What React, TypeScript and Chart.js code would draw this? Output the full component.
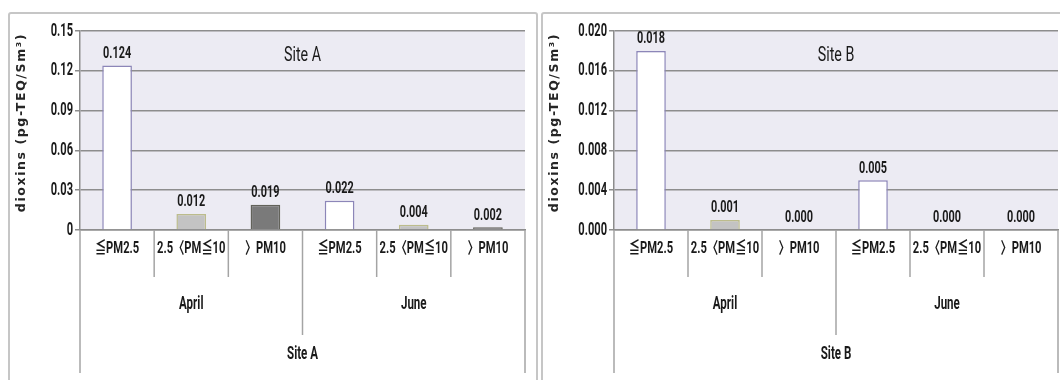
import { useEffect, useRef } from "react";
import { Chart, registerables } from "chart.js";

Chart.register(...registerables);

// Particle size classes, repeated for each sampling month
const sizeClasses = ["≦PM2.5", "2.5〈PM≦10", "〉PM10"];
const months = ["April", "June"];
const categories = months.flatMap(() => sizeClasses);

// Dioxin concentrations (pg-TEQ/Sm³)
const siteAValues = [0.124, 0.012, 0.019, 0.022, 0.004, 0.002];
const siteBValues = [0.018, 0.001, 0.0, 0.005, 0.0, 0.0];

// Value-axis tick labels
const siteATicks = ["0", "0.03", "0.06", "0.09", "0.12", "0.15"];
const siteBTicks = ["0.000", "0.004", "0.008", "0.012", "0.016", "0.020"];

const yTitle = "dioxins (pg-TEQ/Sm³)";

const barFills = ["#ffffff", "#c3c3c3", "#7a7a7a"];
const barEdges = ["#8c86b8", "#bcbc8c", "#62625a"];

const FACE = '"Roboto", "Noto Sans CJK KR", "Liberation Sans", sans-serif';
const TEXT = "#1a1a1a";
const GRID = "#8d8d8d";
const DIVIDER = "#a4a4a4";
const PLOT_BG = "#ecebf3";

// Draws horizontally condensed text centred vertically on y
function narrowText(
  ctx: CanvasRenderingContext2D,
  text: string,
  x: number,
  y: number,
  size: number,
  align: CanvasTextAlign,
  squeeze = 0.7,
  weight = "bold"
) {
  ctx.save();
  ctx.translate(x, y);
  ctx.scale(squeeze, 1);
  ctx.font = `${weight} ${size}px ${FACE}`;
  ctx.textAlign = align;
  ctx.textBaseline = "middle";
  ctx.fillStyle = TEXT;
  ctx.fillText(text, 0, 0);
  ctx.restore();
}

function vline(ctx: CanvasRenderingContext2D, x: number, y0: number, y1: number) {
  ctx.save();
  ctx.strokeStyle = DIVIDER;
  ctx.lineWidth = 1.5;
  ctx.beginPath();
  ctx.moveTo(x, y0);
  ctx.lineTo(x, y1);
  ctx.stroke();
  ctx.restore();
}

const panelDecor = {
  id: "panelDecor",
  beforeDraw(chart: any) {
    const { ctx, chartArea: a } = chart;
    ctx.save();
    ctx.fillStyle = PLOT_BG;
    ctx.fillRect(a.left, a.top, a.right - a.left, a.bottom - a.top);
    ctx.restore();
  },
  afterDraw(chart: any, _args: any, opts: any) {
    const { ctx, chartArea: a } = chart;
    const ys = chart.scales.y;
    const xs = chart.scales.x;
    const values: number[] = chart.data.datasets[0].data;

    // value-axis tick labels
    ys.ticks.forEach((t: any, i: number) => {
      narrowText(ctx, opts.tickLabels[i] ?? "", a.left - 7, ys.getPixelForValue(t.value), 18.5, "right", 0.6);
    });

    // value-axis title
    ctx.save();
    ctx.translate(12, (a.top + a.bottom) / 2 - 8);
    ctx.rotate(-Math.PI / 2);
    ctx.font = 'bold 12.5px "DejaVu Sans", sans-serif';
    (ctx as any).letterSpacing = "1.6px";
    ctx.textAlign = "center";
    ctx.textBaseline = "middle";
    ctx.fillStyle = "#262626";
    ctx.fillText(yTitle, 0, 0);
    ctx.restore();

    // site caption inside the plot
    narrowText(ctx, opts.site, (a.left + a.right) / 2, a.top + 25, 21, "center", 0.68, "normal");

    // value labels above bars
    const meta = chart.getDatasetMeta(0);
    meta.data.forEach((bar: any, i: number) => {
      narrowText(ctx, values[i].toFixed(3), bar.x, bar.y - 12, 17, "center", 0.64);
    });

    // multi-level category axis
    const n = categories.length;
    const catW = xs.getPixelForValue(1) - xs.getPixelForValue(0);
    const edge = (i: number) => xs.getPixelForValue(0) - catW / 2 + i * catW;
    for (let i = 0; i <= n; i++) {
      let end = a.bottom + 47;
      if (i === 0 || i === n) end = a.bottom + 143;
      else if (i % sizeClasses.length === 0) end = a.bottom + 105;
      vline(ctx, edge(i), a.bottom, end);
    }
    categories.forEach((c, i) => {
      narrowText(ctx, c, xs.getPixelForValue(i), a.bottom + 19, 16, "center", 0.7);
    });
    months.forEach((m, g) => {
      const cx = (edge(g * sizeClasses.length) + edge((g + 1) * sizeClasses.length)) / 2;
      narrowText(ctx, m, cx, a.bottom + 74.5, 17.5, "center", 0.66);
    });
    narrowText(ctx, opts.site, (edge(0) + edge(n)) / 2, a.bottom + 125, 17.5, "center", 0.66);
  },
};

type PanelProps = {
  site: string;
  values: number[];
  tickLabels: string[];
  x: number;
  width: number;
  plotLeft: number;
  plotRight: number;
};

const PANEL_TOP = 12;
const PANEL_H = 380;
const BORDER = 2;
const PLOT_TOP = 17;
const PLOT_BOTTOM = 216;

function SitePanel({ site, values, tickLabels, x, width, plotLeft, plotRight }: PanelProps) {
  const ref = useRef<HTMLCanvasElement | null>(null);
  const cw = width - BORDER * 2;
  const ch = PANEL_H - BORDER * 2;

  useEffect(() => {
    if (!ref.current) return;
    const max = parseFloat(tickLabels[tickLabels.length - 1]);
    const step = parseFloat(tickLabels[1]);
    const chart = new Chart(ref.current, {
      type: "bar",
      data: {
        labels: categories,
        datasets: [
          {
            data: values,
            backgroundColor: categories.map((_, i) => barFills[i % barFills.length]),
            borderColor: categories.map((_, i) => barEdges[i % barEdges.length]),
            borderWidth: 1.5,
            barPercentage: 0.4,
            categoryPercentage: 1,
          },
        ],
      },
      options: {
        responsive: false,
        animation: false,
        events: [],
        layout: { padding: { top: PLOT_TOP, right: cw - plotRight, left: 0, bottom: 0 } },
        plugins: {
          legend: { display: false },
          tooltip: { enabled: false },
          title: { display: false },
          panelDecor: { site, tickLabels },
        } as any,
        scales: {
          x: {
            ticks: { display: false },
            grid: { display: false, drawTicks: false },
            border: { display: true, color: GRID, width: 1.5 },
            afterFit: (s: any) => {
              s.height = ch - PLOT_BOTTOM;
            },
          },
          y: {
            min: 0,
            max,
            ticks: { stepSize: step, display: false },
            grid: { color: GRID, lineWidth: 1.5, tickLength: 5, drawTicks: true },
            border: { display: true, color: GRID, width: 1.5 },
            afterFit: (s: any) => {
              s.width = plotLeft;
            },
          },
        },
      },
      plugins: [panelDecor],
    });
    return () => chart.destroy();
  }, []);

  return (
    <div
      style={{
        position: "absolute",
        left: x,
        top: PANEL_TOP,
        width,
        height: PANEL_H,
        boxSizing: "border-box",
        border: `${BORDER}px solid #c6c6c6`,
        borderRadius: 3,
        background: "#ffffff",
      }}
    >
      <canvas ref={ref} width={cw} height={ch} style={{ display: "block" }} />
    </div>
  );
}

export default function App() {
  return (
    <div
      style={{
        position: "fixed",
        left: 0,
        top: 0,
        width: 1060,
        height: 380,
        overflow: "hidden",
        background: "#ffffff",
      }}
    >
      <SitePanel site="Site A" values={siteAValues} tickLabels={siteATicks} x={8} width={530} plotLeft={70} plotRight={515} />
      <SitePanel site="Site B" values={siteBValues} tickLabels={siteBTicks} x={541} width={530} plotLeft={71} plotRight={515} />
    </div>
  );
}
